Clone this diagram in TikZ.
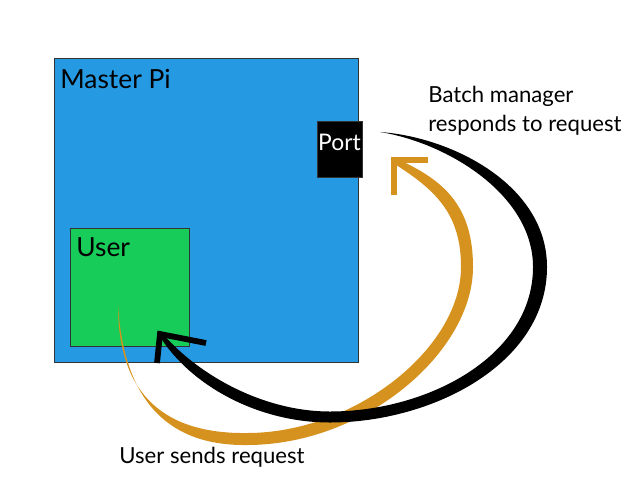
\documentclass[tikz,border=0pt]{standalone}
\usepackage{fontspec}
\setmainfont{Lato}
\usepackage{tikz}
\usetikzlibrary{positioning}
\definecolor{masterblue}{RGB}{38,153,227}
\definecolor{usergreen}{RGB}{24,204,90}
\definecolor{reqorange}{RGB}{214,146,30}
\def\PxW{0.02cm}

\begin{document}
\begin{tikzpicture}[x=\PxW,y=-\PxW,
		box/.style={draw=black!80,line width=0.8pt,inner sep=0pt,anchor=north west},
		lbl/.style={inner sep=0pt,anchor=base west,font=\fontsize{12.6}{16.4}\selectfont},
		headlbl/.style={lbl,font=\fontsize{15}{18}\selectfont},
		tip/.style={line width=3.3pt,miter limit=10}]
	\useasboundingbox (0,0) rectangle (644,500);
	\node[box,fill=masterblue,minimum width=304*\PxW,minimum height=304*\PxW] (master) at (54,58) {};
	\node[box,fill=usergreen,minimum width=119*\PxW,minimum height=118*\PxW] (user) at (70,228) {};
	\node[box,fill=black,minimum width=45*\PxW,minimum height=56*\PxW] (port) at (317,121) {};
	\node[headlbl] (mastertxt) at (60,89) {Master Pi};
	\node[headlbl] (usertxt) at (76,256) {User};
	\node[lbl,anchor=base,text=white,font=\fontsize{13}{16}\selectfont] (porttxt) at (339.5,150) {Port};
	\node[lbl,anchor=north west,align=left] (resptxt) at (428,86) {Batch manager\\responds to request};
	\node[lbl] (reqtxt) at (119,463) {User sends request};
	\coordinate (ostart) at (118,305);
	\coordinate (ohead) at (394,160);
	\coordinate (bstart) at (380,132);
	\coordinate (bhead) at (160,334);
	% request: user -> port
	\fill[reqorange] (ostart) .. controls (124,405) and (172,446) .. (247,445)
		.. controls (365,445) and (473,352) .. (473,267)
		.. controls (473,206) and (444,180) .. (397,159)
		-- (393,163)
		.. controls (436,190) and (461,214) .. (461,267)
		.. controls (461,348) and (355,433) .. (247,433)
		.. controls (168,434) and (118,398) .. (ostart) -- cycle;
	\draw[tip,reqorange] (428,160) -- (ohead) -- (394,195);
	% response: port -> user
	\fill (bstart) .. controls (452,137) and (547,185) .. (547,267)
		.. controls (547,364) and (432,422.5) .. (330,422.5)
		.. controls (256,422.5) and (190,384) .. (160.4,337.2)
		-- (163.6,334.8)
		.. controls (200,376) and (264,411.5) .. (330,411.5)
		.. controls (428,411.5) and (533,356) .. (533,267)
		.. controls (533,195) and (448,143) .. (bstart) -- cycle;
	\draw[tip] (206,343) -- (bhead) -- (157,363);
\end{tikzpicture}
\end{document}
